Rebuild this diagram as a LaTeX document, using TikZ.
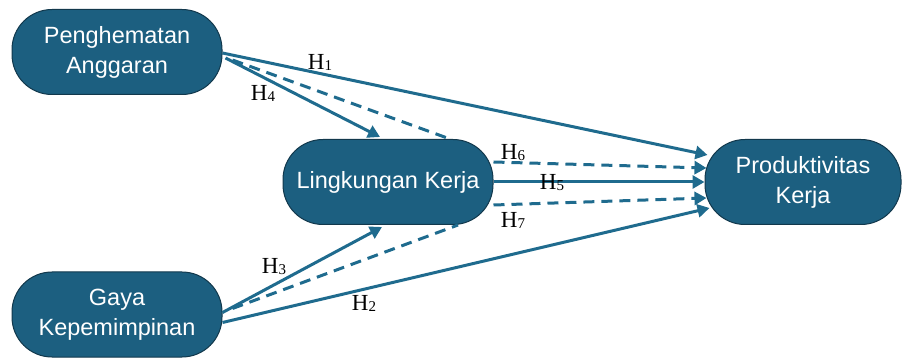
\documentclass[tikz,border=0pt]{standalone}
\usepackage{fontspec}
\setmainfont{Liberation Sans}
\newfontfamily\labfont{Liberation Serif}
\usetikzlibrary{arrows.meta,calc}
\definecolor{boxfill}{HTML}{1C5F80}
\definecolor{boxline}{HTML}{12384C}
\definecolor{arr}{HTML}{1F6B8E}
\tikzset{
  box/.style={draw=boxline, line width=1pt, fill=boxfill, rounded corners=40pt,
    minimum height=85pt, text=white, align=center,
    font=\fontsize{23.5}{30}\selectfont, inner sep=0pt},
  link/.style={draw=arr, line width=3pt, -{Triangle[length=12pt,width=13pt]}},
  dlink/.style={link, dash pattern=on 11pt off 7pt},
  dline/.style={draw=arr, line width=3pt, dash pattern=on 11pt off 7pt},
  hlab/.style={font=\labfont\fontsize{23}{25}\selectfont, inner sep=0pt}
}
\newcommand{\hl}[1]{H\raisebox{-1pt}{\fontsize{15}{15}\selectfont #1}}
\begin{document}
\begin{tikzpicture}[x=1pt,y=-1pt]
\useasboundingbox (0,0) rectangle (903,358);
\node[box, minimum width=210pt] (pa) at (117,52) {Penghematan\\Anggaran};
\node[box, minimum width=210pt] (lk) at (388,182) {Lingkungan Kerja};
\node[box, minimum width=210pt] (gk) at (117,314.5) {Gaya\\Kepemimpinan};
\node[box, minimum width=196pt] (pk) at (803,182) {Produktivitas\\Kerja};
\draw[dline] ($(pa.east)+(10,8)$) -- ($(lk.north)+(62,0)$);
\draw[dline] ($(gk.east)+(10,-6)$) -- ($(lk.south)+(70,0)$);
\draw[link] ($(pa.east)+(0,1)$) -- ($(pk.west)+(3,-27)$);
\draw[link] ($(pa.east)+(3,6)$) -- ($(lk.north)+(-8,-2)$);
\draw[dlink] ($(lk.east)+(0,-20)$) -- ($(pk.west)+(2,-14)$);
\draw[link] (lk.east) -- (pk.west);
\draw[dlink] ($(lk.east)+(0,23)$) -- ($(pk.west)+(2,16)$);
\draw[link] ($(gk.east)+(0,8)$) -- ($(pk.west)+(5,26)$);
\draw[link] ($(gk.east)+(0,-2)$) -- ($(lk.south)+(-6,2)$);
\node[hlab] (h1) at (320,62) {\hl{1}};
\node[hlab] (h4) at (263,93) {\hl{4}};
\node[hlab] (h6) at (513,153) {\hl{6}};
\node[hlab] (h5) at (552,183) {\hl{5}};
\node[hlab] (h7) at (513,220) {\hl{7}};
\node[hlab] (h3) at (274,267) {\hl{3}};
\node[hlab] (h2) at (364,303) {\hl{2}};
\end{tikzpicture}
\end{document}
